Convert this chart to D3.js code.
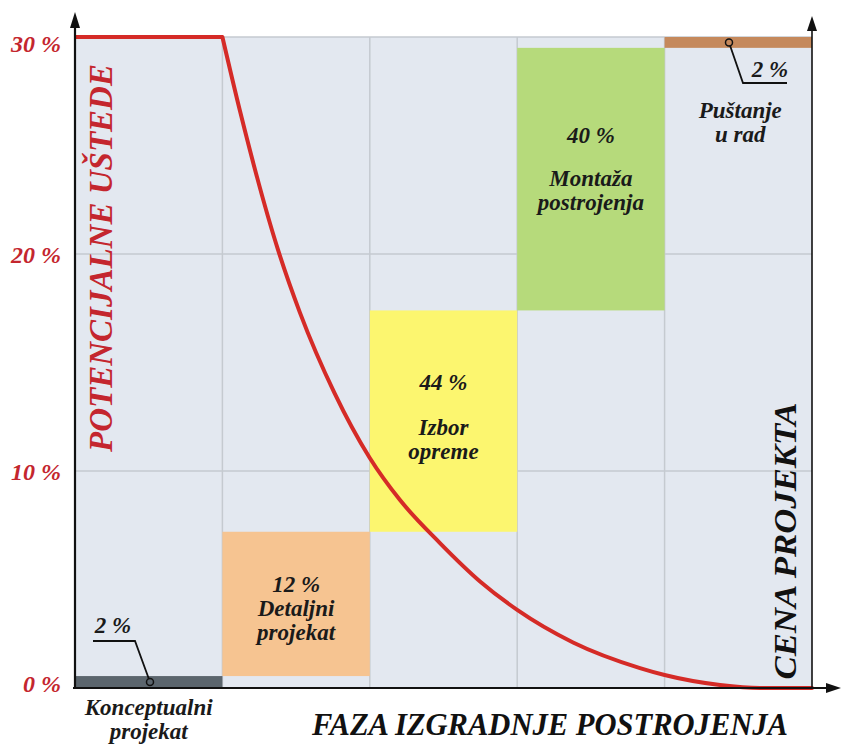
<!DOCTYPE html>
<html><head><meta charset="utf-8">
<script src="https://cdn.jsdelivr.net/npm/d3@7"></script>
<style>body{margin:0;background:#fff} svg{display:block}</style>
</head><body>
<svg id="chart" width="842" height="744"></svg>
<script>
// ---- data ----
const phases = ["Konceptualni projekat", "Detaljni projekat", "Izbor opreme", "Montaža postrojenja", "Puštanje u rad"];
const costShare = [2, 12, 44, 40, 2];
const barFrom = [0, 0.55, 7.2, 17.4, 29.5];
const barTo = [0.55, 7.2, 17.4, 29.5, 30];
const barColors = ["#5b656d", "#f6c491", "#fcf66f", "#b6da7b", "#c5895c"];
const savingsX = [0, 1, 1.119, 1.377, 1.526, 1.76, 2.0, 2.205, 2.476, 2.75, 3.0, 3.379, 3.833, 4.0, 4.376, 4.647, 5.0];
const savingsY = [30, 30, 26.6, 20.2, 17.3, 13.6, 10.6, 8.66, 6.68, 4.9, 3.6, 2.1, 0.92, 0.6, 0.14, 0, 0];
const yTicks = [0, 10, 20, 30];
const yTitle = "POTENCIJALNE UŠTEDE";
const y2Title = "CENA PROJEKTA";
const xTitle = "FAZA IZGRADNJE POSTROJENJA";

// ---- layout ----
const svg = d3.select("#chart");
const L = 75, R = 812, T = 37, B = 688;
const x = d3.scaleLinear().domain([0, phases.length]).range([L, R]);
const y = d3.scaleLinear().domain([0, 30]).range([B, T]);
const serif = "Liberation Serif";
const red = "#c4262e";

// background
svg.append("rect").attr("x", L).attr("y", T).attr("width", R - L).attr("height", B - T).attr("fill", "#e3e8f0");

// gridlines
const grid = svg.append("g").attr("stroke", "#c5cad0").attr("stroke-width", 1.5);
d3.range(1, phases.length).forEach(i => grid.append("line").attr("x1", x(i)).attr("x2", x(i)).attr("y1", T).attr("y2", B));
yTicks.filter(v => v > 0).forEach(v => grid.append("line").attr("x1", L).attr("x2", R).attr("y1", y(v)).attr("y2", y(v)));

// bars
svg.append("g").selectAll("rect").data(phases).join("rect")
  .attr("x", (d, i) => x(i)).attr("width", (d, i) => x(i + 1) - x(i))
  .attr("y", (d, i) => y(barTo[i])).attr("height", (d, i) => y(barFrom[i]) - y(barTo[i]))
  .attr("fill", (d, i) => barColors[i]);

// bar labels
function splitName(s) { const k = s.indexOf(" "); return [s.slice(0, k), s.slice(k + 1)]; }
const lbl = svg.append("g").attr("font-family", serif).attr("font-weight", "bold").attr("font-style", "italic")
  .attr("font-size", 23).attr("fill", "#1a1a1a").attr("text-anchor", "middle");
function addLines(cx, lines, ys) {
  lines.forEach((t, j) => lbl.append("text").attr("x", cx).attr("y", ys[j]).text(t));
}
const cx = i => (x(i) + x(i + 1)) / 2;
addLines(cx(1), [costShare[1] + " %", ...splitName(phases[1])], [592, 616, 640]);
addLines(cx(2), [costShare[2] + " %", ...splitName(phases[2])], [390, 435, 459]);
addLines(cx(3), [costShare[3] + " %", ...splitName(phases[3])], [143, 186, 210]);
addLines(cx(4) + 2, splitName(phases[4]), [118, 142]);
addLines(cx(0), splitName(phases[0]), [715, 739]);

// callouts
function callout(px, py, pts, textX, textY, label, fill) {
  svg.append("path").attr("d", d3.line()(pts)).attr("fill", "none").attr("stroke", "#111").attr("stroke-width", 1.8);
  svg.append("circle").attr("cx", px).attr("cy", py).attr("r", 3.5).attr("fill", fill).attr("stroke", "#111").attr("stroke-width", 1.5);
  lbl.append("text").attr("x", textX).attr("y", textY).text(label);
}
const yc0 = (y(barFrom[0]) + y(barTo[0])) / 2;
callout(150, yc0, [[93, 641], [135, 641], [150, yc0]], 113, 633, costShare[0] + " %", barColors[0]);
const yc4 = (y(barFrom[4]) + y(barTo[4])) / 2;
callout(729, yc4, [[729, yc4], [743, 83], [787, 83]], 770, 77, costShare[4] + " %", barColors[4]);

// savings curve: flat part + smooth decay
const pts = savingsX.map((v, i) => [x(v), y(savingsY[i])]);
const flat = pts.slice(0, 2), decay = pts.slice(1);
svg.append("path").attr("d", d3.line()(flat)).attr("fill", "none").attr("stroke", "#d52b27").attr("stroke-width", 4);
svg.append("path").attr("d", d3.line().curve(d3.curveMonotoneX)(decay)).attr("fill", "none")
  .attr("stroke", "#d52b27").attr("stroke-width", 4).attr("stroke-linecap", "round");

// axes
const ax = svg.append("g").attr("stroke", "#111");
ax.append("line").attr("x1", L).attr("x2", L).attr("y1", B + 1).attr("y2", 24).attr("stroke-width", 2.2);
ax.append("line").attr("x1", R).attr("x2", R).attr("y1", B).attr("y2", 28).attr("stroke-width", 1.6);
ax.append("line").attr("x1", L - 2).attr("x2", 828).attr("y1", B).attr("y2", B).attr("stroke-width", 2.2);
svg.append("path").attr("d", `M${L},12 L${L - 5},28 L${L + 5},28 Z`).attr("fill", "#111");
svg.append("path").attr("d", `M${R},16 L${R - 5},31 L${R + 5},31 Z`).attr("fill", "#111");
svg.append("path").attr("d", `M841,${B} L826,${B - 5} L826,${B + 5} Z`).attr("fill", "#111");

// y tick labels
const yAxis = svg.append("g").attr("transform", `translate(${L},0)`)
  .call(d3.axisLeft(y).tickValues(yTicks).tickSize(0).tickPadding(14).tickFormat(d => d + " %"));
yAxis.select(".domain").remove();
yAxis.selectAll("text").attr("font-family", serif).attr("font-weight", "bold").attr("font-style", "italic")
  .attr("font-size", 24).attr("fill", red).attr("dy", "0.36em")
  .attr("transform", d => d === 30 ? "translate(0,6)" : d === 0 ? "translate(0,-5)" : null);

// titles
svg.append("text").attr("transform", "translate(112,258) rotate(-90)").attr("text-anchor", "middle")
  .attr("font-family", serif).attr("font-weight", "bold").attr("font-style", "italic").attr("font-size", 34)
  .attr("fill", red).attr("textLength", 388).attr("lengthAdjust", "spacingAndGlyphs").text(yTitle);
svg.append("text").attr("transform", "translate(796,541) rotate(-90)").attr("text-anchor", "middle")
  .attr("font-family", serif).attr("font-weight", "bold").attr("font-style", "italic").attr("font-size", 32)
  .attr("fill", "#111").attr("textLength", 277).attr("lengthAdjust", "spacingAndGlyphs").text(y2Title);
svg.append("text").attr("x", 550).attr("y", 735).attr("text-anchor", "middle")
  .attr("font-family", serif).attr("font-weight", "bold").attr("font-style", "italic").attr("font-size", 32)
  .attr("fill", "#111").attr("textLength", 476).attr("lengthAdjust", "spacingAndGlyphs").text(xTitle);
</script>
</body></html>
